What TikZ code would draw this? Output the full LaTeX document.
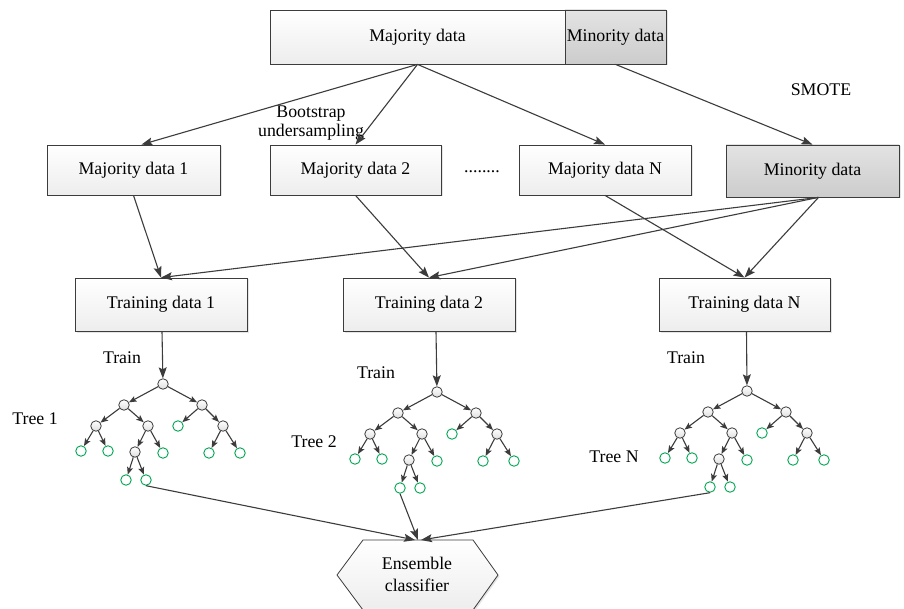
\documentclass[tikz,border=0pt]{standalone}
\usepackage{fontspec}
\setmainfont{Liberation Serif}
\usetikzlibrary{arrows.meta,shadows}
\definecolor{ln}{HTML}{3C3C3C}
\definecolor{lf}{HTML}{00A651}
\tikzset{
  box/.style={draw=ln, line width=0.8pt, top color=white, bottom color=gray!14,
    minimum height=50, inner sep=0, font=\fontsize{17.8}{21}\selectfont,
    drop shadow={shadow xshift=1.5pt, shadow yshift=-1.5pt, fill=gray!40}},
  gbox/.style={box, top color=gray!22, bottom color=gray!40},
  lbl/.style={font=\fontsize{17.8}{21}\selectfont, inner sep=0},
  arr/.style={draw=ln, line width=1.1pt, -{Stealth[length=11pt,width=8pt,inset=2pt]}},
  tarr/.style={draw=ln, line width=1.1pt, -{Stealth[length=7.5pt,width=6pt,inset=1.5pt]}},
  inn/.style={circle, draw=ln, line width=0.8pt, inner sep=0, minimum size=10.5,
    top color=white, bottom color=gray!25},
  leaf/.style={circle, draw=lf, line width=0.9pt, fill=white, inner sep=0, minimum size=10.5},
}
\newcommand\mytree[3]{%
  \begin{scope}[shift={(#2,#3)}]
    \node[inn] (#1r) at (0,0) {};
    \node[inn] (#1a) at (-39,21) {};
    \node[inn] (#1b) at (39,21) {};
    \node[inn] (#1c) at (-67,42) {};
    \node[inn] (#1d) at (-15,42) {};
    \node[leaf] (#1e) at (15,42) {};
    \node[inn] (#1f) at (60,42) {};
    \node[leaf] (#1g) at (-82,67) {};
    \node[leaf] (#1h) at (-55,67) {};
    \node[inn] (#1i) at (-28,68) {};
    \node[leaf] (#1j) at (0,69) {};
    \node[leaf] (#1k) at (46,69) {};
    \node[leaf] (#1l) at (77,69) {};
    \node[leaf] (#1m) at (-37,96) {};
    \node[leaf] (#1n) at (-17,96) {};
    \draw[tarr] (#1r) -- (#1a);
    \draw[tarr] (#1r) -- (#1b);
    \draw[tarr] (#1a) -- (#1c);
    \draw[tarr] (#1a) -- (#1d);
    \draw[tarr] (#1b) -- (#1e);
    \draw[tarr] (#1b) -- (#1f);
    \draw[tarr] (#1c) -- (#1g);
    \draw[tarr] (#1c) -- (#1h);
    \draw[tarr] (#1d) -- (#1i);
    \draw[tarr] (#1d) -- (#1j);
    \draw[tarr] (#1f) -- (#1k);
    \draw[tarr] (#1f) -- (#1l);
    \draw[tarr] (#1i) -- (#1m);
    \draw[tarr] (#1i) -- (#1n);
  \end{scope}}
\begin{document}
\begin{tikzpicture}[x=1pt,y=-1pt]
\useasboundingbox[fill=white] (0,0) rectangle (904,609);
% top
\node[box, minimum width=295, minimum height=54] (maj) at (417.5,37) {Majority data};
\node[gbox, minimum width=101, minimum height=54] (mino) at (615.5,37) {Minority data};
% second row
\node[box, minimum width=173] (md1) at (133.5,170) {Majority data 1};
\node[box, minimum width=171] (md2) at (355.5,170) {Majority data 2};
\node[box, minimum width=172] (mdN) at (605,170) {Majority data N};
\node[gbox, minimum width=173, minimum height=52] (min) at (812.5,171) {Minority data};
\node[lbl] (dots) at (482,172) {........};
\node[lbl] (smote) at (821,90) {SMOTE};
\node[lbl, align=center] (boot) at (311,123) {Bootstrap\\[-2pt]undersampling};
% training
\node[box, minimum width=172, minimum height=53] (td1) at (161,304.5) {Training data 1};
\node[box, minimum width=172, minimum height=53] (td2) at (429,304.5) {Training data 2};
\node[box, minimum width=171, minimum height=53] (tdN) at (744.5,304.5) {Training data N};
% trees
\mytree{ta}{163}{384}
\mytree{tb}{437}{392}
\mytree{tc}{747}{391}
\node[lbl] (tr1) at (122,358) {Train};
\node[lbl] (tr2) at (376,373) {Train};
\node[lbl] (tr3) at (686,358) {Train};
\node[lbl] (tl1) at (35,419) {Tree 1};
\node[lbl] (tl2) at (314,442) {Tree 2};
\node[lbl] (tl3) at (614,457) {Tree N};
% ensemble
\draw[draw=ln, line width=0.8pt, top color=white, bottom color=gray!14,
  drop shadow={shadow xshift=1.5pt, shadow yshift=-1.5pt, fill=gray!40}]
  (363,540) -- (473,540) -- (498,575) -- (473,610) -- (363,610) -- (337,575) -- cycle;
\node[lbl, align=center] (ens) at (417,574) {Ensemble\\[1pt]classifier};
\coordinate (enstop) at (418,540);
% arrows
\draw[arr] (maj.south) -- ([xshift=8pt]md1.north);
\draw[arr] (maj.south) -- (md2.north);
\draw[arr] (maj.south) -- (mdN.north);
\draw[arr] (mino.south) -- (min.north);
\draw[arr] (md1.south) -- (td1.north);
\draw[arr] (md2.south) -- (td2.north);
\draw[arr] (mdN.south) -- (tdN.north);
\draw[arr] ([xshift=6pt]min.south) -- (td1.north);
\draw[arr] ([xshift=6pt]min.south) -- (td2.north);
\draw[arr] ([xshift=6pt]min.south) -- (tdN.north);
\draw[arr] ([xshift=1pt]td1.south) -- (tar);
\draw[arr] ([xshift=7pt]td2.south) -- (tbr);
\draw[arr] ([xshift=2pt]tdN.south) -- (tcr);
\draw[arr] (tan.south) -- ([xshift=-3pt]enstop);
\draw[arr] (tbm.south) -- (enstop);
\draw[arr] (tcm.south) -- ([xshift=3pt]enstop);
\end{tikzpicture}
\end{document}
